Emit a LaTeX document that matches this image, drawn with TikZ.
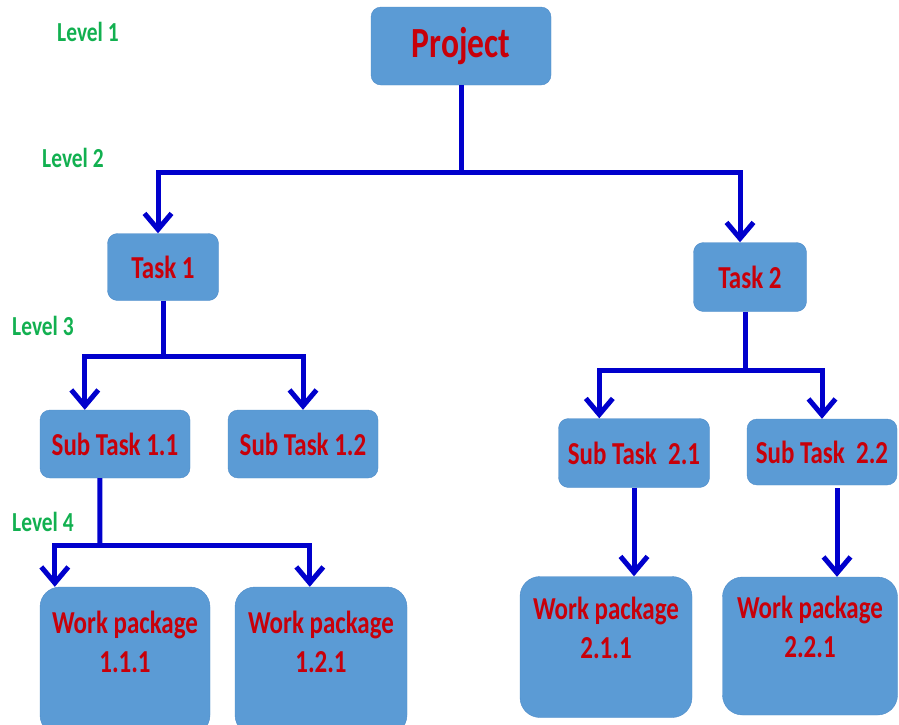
\documentclass[tikz,border=0pt]{standalone}
\usepackage{fontspec}
\setmainfont{Carlito}[FakeStretch=0.78]
\usetikzlibrary{arrows.meta,positioning}

\definecolor{boxblue}{HTML}{5B9BD5}
\definecolor{boxedge}{HTML}{4F8CC9}
\definecolor{textred}{HTML}{C8000A}
\definecolor{linkblue}{HTML}{0000CC}
\definecolor{levelgreen}{HTML}{12B050}

\begin{document}
\begin{tikzpicture}[x=1pt,y=-1pt,>={Straight Barb[length=16pt,width=27pt]},
    every box/.style={draw=boxedge,fill=boxblue,text=textred,rounded corners=10pt,
        font=\fontsize{32}{39}\selectfont\bfseries,inner sep=0pt,align=center},
    every package/.style={every box,rounded corners=20pt},
    every level/.style={text=levelgreen,font=\fontsize{27.5}{30}\selectfont\bfseries},
    link/.style={draw=linkblue,line width=5pt},
    arrow/.style={link,->}]

\useasboundingbox (0,0) rectangle (899,724);
\clip (0,0) rectangle (899,724);

% levels
\node [every level] (lvl1) at (88,32) {Level 1};
\node [every level] (lvl2) at (73,158) {Level 2};
\node [every level] (lvl3) at (43,326) {Level 3};
\node [every level] (lvl4) at (43,522) {Level 4};

% project and tasks
\node [every box,minimum width=180pt,minimum height=78pt,
    font=\fontsize{43}{46}\selectfont\bfseries] (project) at (461,46) {Project};
\node [every box,minimum width=111pt,minimum height=67pt] (task1) at (163,267) {Task 1};
\node [every box,minimum width=113pt,minimum height=69pt] (task2) at (750,277) {Task 2};

% sub tasks
\node [every box,minimum width=150pt,minimum height=68pt] (sub11) at (115,444) {Sub Task 1.1};
\node [every box,minimum width=150pt,minimum height=68pt] (sub12) at (303,444) {Sub Task 1.2};
\node [every box,minimum width=151pt,minimum height=69pt] (sub21) at (634,453) {Sub Task~ 2.1};
\node [every box,minimum width=150pt,minimum height=66pt] (sub22) at (822,452) {Sub Task~ 2.2};

% work packages
\node [every package,minimum width=170pt,minimum height=148pt] (wp111) at (125,661) {Work package\\1.1.1\\~};
\node [every package,minimum width=172pt,minimum height=148pt] (wp121) at (321,661) {Work package\\1.2.1\\~};
\node [every package,minimum width=172pt,minimum height=141pt] (wp211) at (606,647) {Work package\\2.1.1\\~};
\node [every package,minimum width=175pt,minimum height=138pt] (wp221) at (810,646) {Work package\\2.2.1\\~};

% level 2 links
\coordinate (bus2) at (461,172);
\draw [link] (project) -- (bus2);
\draw [arrow] (bus2) -| ([xshift=-5]task1.north);
\draw [arrow] (bus2) -| ([xshift=-10]task2.north);

% level 3 links
\coordinate (bus3a) at (163,356);
\draw [link] (task1) -- (bus3a);
\draw [arrow] (bus3a) -| ([xshift=45]sub11.north west);
\draw [arrow] (bus3a) -| (sub12.north);
\coordinate (bus3b) at (745,370);
\draw [link] ([xshift=-5]task2.south) -- (bus3b);
\draw [arrow] (bus3b) -| ([xshift=41]sub21.north west);
\draw [arrow] (bus3b) -| (sub22.north);

% level 4 links
\coordinate (bus4) at (100,545);
\draw [link] ([xshift=60]sub11.south west) -- (bus4);
\draw [arrow] (bus4) -| ([xshift=15]wp111.north west);
\draw [arrow] (bus4) -| ([xshift=75]wp121.north west);
\draw [arrow] (sub21) -- (sub21 |- wp211.north);
\draw [arrow] ([xshift=15,yshift=-3]sub22.south) -- ([xshift=15]sub22.south |- wp221.north);

\end{tikzpicture}
\end{document}
